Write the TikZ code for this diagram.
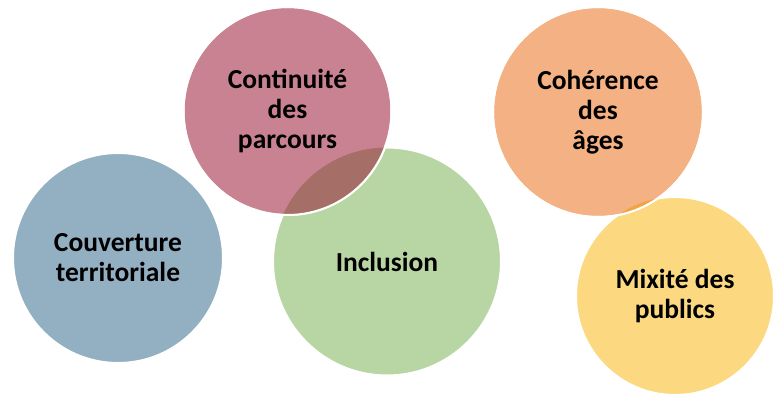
\documentclass[tikz,border=0pt]{standalone}
\usepackage{fontspec}
\setmainfont{Carlito}
\definecolor{cblue}{HTML}{93AFC2}
\definecolor{cpink}{HTML}{C98291}
\definecolor{cgreen}{HTML}{B8D6A4}
\definecolor{corange}{HTML}{F4B183}
\definecolor{cyellow}{HTML}{FCD981}
\definecolor{ovpink}{HTML}{A56E66}
\definecolor{ovorange}{HTML}{F2A443}
\begin{document}
\begin{tikzpicture}[x=1pt,y=-1pt,
  bubble/.style={circle,draw=white,line width=2pt,inner sep=0pt},
  ring/.style={draw=white,line width=2pt},
  label/.style={align=center,font=\fontsize{27.5}{30}\selectfont\bfseries,text=black,inner sep=0pt}]
\useasboundingbox (0,0) rectangle (773,396);
\node[bubble,fill=cblue,minimum size=210pt] (cov) at (118,258) {};
\node[bubble,fill=cgreen,minimum size=228pt] (inc) at (387,261.5) {};
\node[bubble,fill=cpink,minimum size=208pt] (con) at (287.5,111) {};
\begin{scope}
  \clip (con.center) circle (104pt);
  \fill[ovpink] (inc.center) circle (114pt);
\end{scope}
\draw[ring] (con.center) circle (104pt);
\node[bubble,fill=cyellow,minimum size=198pt] (mix) at (675,296) {};
\node[bubble,fill=corange,minimum size=210pt] (coh) at (598,112) {};
\begin{scope}
  \clip (coh.center) circle (105pt);
  \fill[ovorange] (mix.center) circle (99pt);
\end{scope}
\draw[ring] (coh.center) circle (105pt);
\node[label] (tcov) at (cov.center) {Couverture\\territoriale};
\node[label] (tcon) at (con.center) {Continuité\\des\\parcours};
\node[label] (tinc) at (inc.center) {Inclusion};
\node[label] (tcoh) at (coh.center) {Cohérence\\des\\âges};
\node[label] (tmix) at (mix.center) {Mixité des\\publics};
\end{tikzpicture}
\end{document}
